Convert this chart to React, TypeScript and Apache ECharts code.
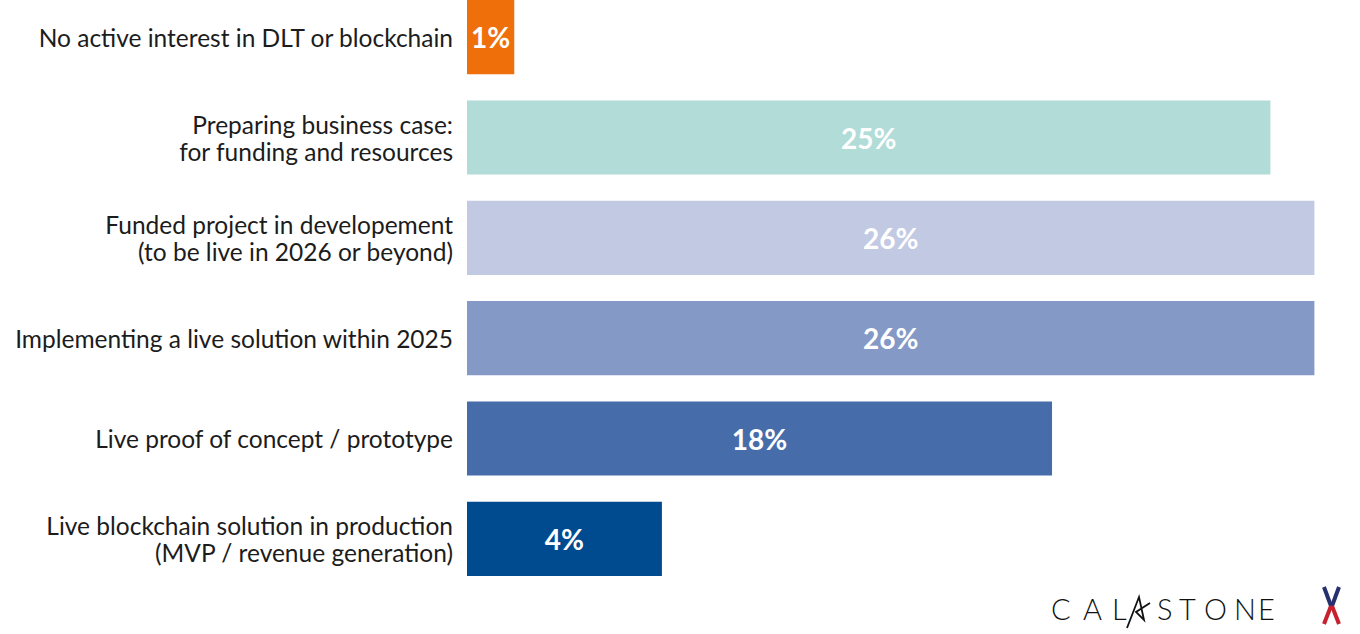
import React, { useEffect, useRef } from "react";
import * as echarts from "echarts";

const categories = [
  "No active interest in DLT or blockchain",
  "Preparing business case:\nfor funding and resources",
  "Funded project in developement\n(to be live in 2026 or beyond)",
  "Implementing a live solution within 2025",
  "Live proof of concept / prototype",
  "Live blockchain solution in production\n(MVP / revenue generation)",
];
// bar lengths as measured in the picture (in % units)
const barValues = [1.45, 24.65, 26, 26, 17.95, 5.98];
const valueLabels = ["1%", "25%", "26%", "26%", "18%", "4%"];
const barColors = ["#EF6F0A", "#B1DCD7", "#C2C9E3", "#8599C6", "#466DAA", "#004A90"];

const logoLetters = ["C", "A", "L", "S", "T", "O", "N", "E"];
const logoX = [1051, 1083, 1112, 1157, 1179, 1204, 1234, 1258];

const SHIFT = 13; // chart canvas starts 13px above the page top

export default function App() {
  const ref = useRef<HTMLDivElement>(null);
  useEffect(() => {
    document.body.style.margin = "0";
    const chart = echarts.init(ref.current!, null, { renderer: "svg" });
    const graphics: any[] = logoLetters.map((ch, i) => ({
      type: "text",
      left: logoX[i],
      top: 594 + SHIFT,
      style: {
        text: ch,
        fontFamily: "Lato",
        fontWeight: 300,
        fontSize: 29,
        fill: "#111111",
      },
    }));
    graphics.push({
      type: "polyline",
      shape: {
        points: [[1127, 628], [1139, 597], [1144, 620], [1136, 612], [1150, 603]].map((p) => [p[0], p[1] + SHIFT]),
      },
      style: { stroke: "#111111", lineWidth: 1.8, fill: null },
    });
    const xLines = [
      [1324, 587, 1331, 606, "#27306E"],
      [1339, 587, 1332, 606, "#27306E"],
      [1331, 606, 1324, 624, "#C7202F"],
      [1332, 606, 1339, 624, "#C7202F"],
    ];
    xLines.forEach((l: any) =>
      graphics.push({
        type: "line",
        shape: { x1: l[0], y1: l[1] + SHIFT, x2: l[2], y2: l[3] + SHIFT },
        style: { stroke: l[4], lineWidth: 4 },
      })
    );

    chart.setOption({
      animation: false,
      grid: { left: 467, right: 13, top: 0, height: 602, containLabel: false },
      xAxis: {
        type: "value",
        min: 0,
        max: 27,
        show: false,
      },
      yAxis: {
        type: "category",
        inverse: true,
        data: categories,
        axisLine: { show: false },
        axisTick: { show: false },
        axisLabel: {
          margin: 14,
          fontFamily: "Lato",
          fontSize: 24.5,
          color: "#1c1c1c",
          lineHeight: 27,
          align: "right",
          padding: [0, 0, 4, 0],
        },
      },
      series: [
        {
          type: "bar",
          barCategoryGap: "26%",
          data: barValues.map((v, i) => ({ value: v, itemStyle: { color: barColors[i] } })),
          label: {
            show: true,
            position: "inside",
            formatter: (p: any) => valueLabels[p.dataIndex],
            color: "#ffffff",
            fontFamily: "Lato",
            fontWeight: "bold",
            fontSize: 28,
          },
        },
      ],
      graphic: graphics,
    });
    return () => chart.dispose();
  }, []);
  return (
    <div style={{ width: 1360, height: 634, overflow: "hidden", position: "relative" }}>
      <div ref={ref} style={{ position: "absolute", left: 0, top: -SHIFT, width: 1360, height: 634 + SHIFT }} />
    </div>
  );
}
